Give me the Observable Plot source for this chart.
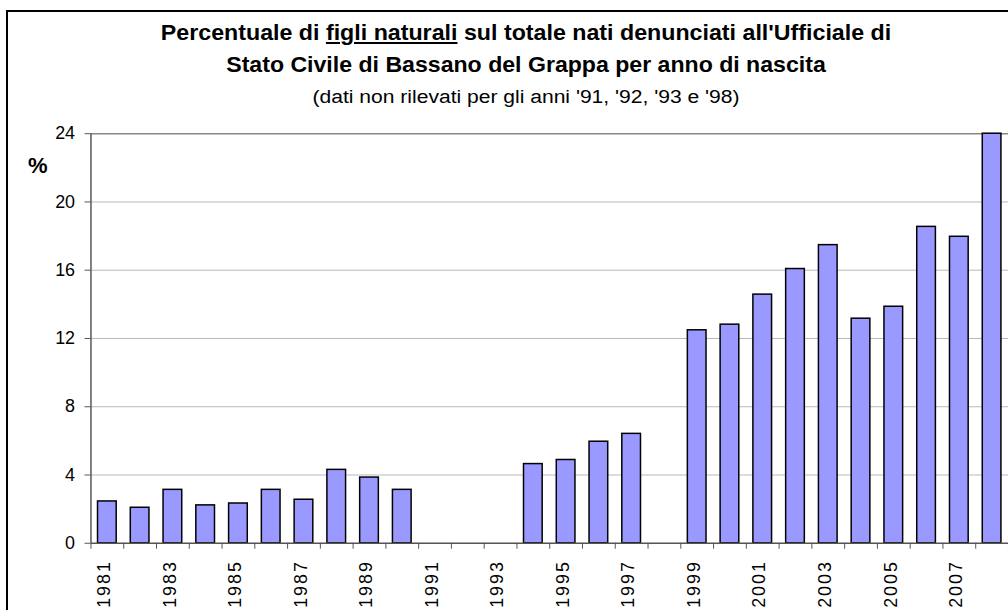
<!DOCTYPE html>
<html>
<head>
<meta charset="utf-8">
<script src="https://cdn.jsdelivr.net/npm/d3@7"></script>
<script src="https://cdn.jsdelivr.net/npm/@observablehq/plot@0.6"></script>
<style>
  html, body { margin: 0; padding: 0; background: #fff; overflow: hidden; }
  #wrap { position: relative; width: 1008px; height: 610px; overflow: hidden; font-family: "Liberation Sans", Arial, sans-serif; }
  #frame { position: absolute; left: 6px; top: 10px; width: 1100px; height: 700px; border: 2px solid #000; box-sizing: border-box; }
  .t { position: absolute; left: 26px; width: 1000px; text-align: center; white-space: nowrap; color: #000; line-height: 1; transform-origin: 500px 50%; }
  #t1 { top: 22.4px; font-size: 22px; font-weight: bold; transform: scaleX(1.055); }
  #t2 { top: 54.4px; font-size: 22px; font-weight: bold; transform: scaleX(1.05); }
  #t3 { top: 88px; font-size: 18px; transform: scaleX(1.17); }
  #pct { position: absolute; left: 28px; top: 155px; font-size: 22px; line-height: 1; font-weight: bold; }
  #chart { position: absolute; left: 0; top: 0; }
  #chart svg g[aria-label="x-axis tick label"] text { letter-spacing: 2px; }
</style>
</head>
<body>
<div id="wrap">
  <div id="frame"></div>
  <div id="chart"></div>
  <div class="t" id="t1">Percentuale di <u>figli naturali</u> sul totale nati denunciati all'Ufficiale di</div>
  <div class="t" id="t2">Stato Civile di Bassano del Grappa per anno di nascita</div>
  <div class="t" id="t3">(dati non rilevati per gli anni '91, '92, '93 e '98)</div>
  <div id="pct">%</div>
</div>
<script>
// Data
const years  = [1981, 1982, 1983, 1984, 1985, 1986, 1987, 1988, 1989, 1990,
                1994, 1995, 1996, 1997,
                1999, 2000, 2001, 2002, 2003, 2004, 2005, 2006, 2007, 2008];
const values = [2.45, 2.08, 3.13, 2.22, 2.33, 3.13, 2.55, 4.30, 3.85, 3.13,
                4.64, 4.88, 5.95, 6.41,
                12.48, 12.81, 14.57, 16.07, 17.47, 13.16, 13.86, 18.54, 17.96, 24.0];
const labelYears = [1981, 1983, 1985, 1987, 1989, 1991, 1993, 1995, 1997, 1999, 2001, 2003, 2005, 2007];
const yTicks = [0, 4, 8, 12, 16, 20, 24];
const firstYear = 1981, lastYear = 2008;

const data = years.map((y, i) => ({year: y, value: values[i]}));
const boundaries = d3.range(firstYear - 0.5, lastYear + 1, 1);
const half = 0.285;

const chart = Plot.plot({
  width: 1014,
  height: 610,
  marginLeft: 91,
  marginRight: 0,
  marginTop: 134,
  marginBottom: 64,
  style: {fontFamily: "'Liberation Sans', Arial, sans-serif", fontSize: "18px", color: "#000", background: "transparent", overflow: "visible"},
  x: {type: "linear", domain: [firstYear - 0.5, lastYear + 0.5], axis: null},
  y: {domain: [0, 24], axis: null},
  marks: [
    Plot.gridY(yTicks.filter(d => d > 0 && d < 24), {stroke: "#b8b8b8", strokeOpacity: 1, strokeWidth: 1}),
    Plot.ruleY([24], {stroke: "#888", strokeWidth: 1.5}),
    Plot.rectY(data, {x1: d => d.year - half, x2: d => d.year + half, y1: 0, y2: "value",
                      fill: "#9999ff", stroke: "#000", strokeWidth: 1.5}),
    Plot.ruleX([firstYear - 0.5], {stroke: "#555", strokeWidth: 1.5}),
    Plot.ruleY([0], {stroke: "#555", strokeWidth: 1.5}),
    Plot.axisY(yTicks, {tickSize: 6, tickPadding: 10, fontSize: 18, stroke: "#555", label: null}),
    Plot.axisX(boundaries, {tickSize: 6, stroke: "#555", tickFormat: () => "", label: null}),
    Plot.axisX(labelYears, {tickSize: 0, tickPadding: 17, tickRotate: -90, fontSize: 18, dx: -3,
                            tickFormat: d => String(d), label: null})
  ]
});
document.getElementById("chart").appendChild(chart);
</script>
</body>
</html>
